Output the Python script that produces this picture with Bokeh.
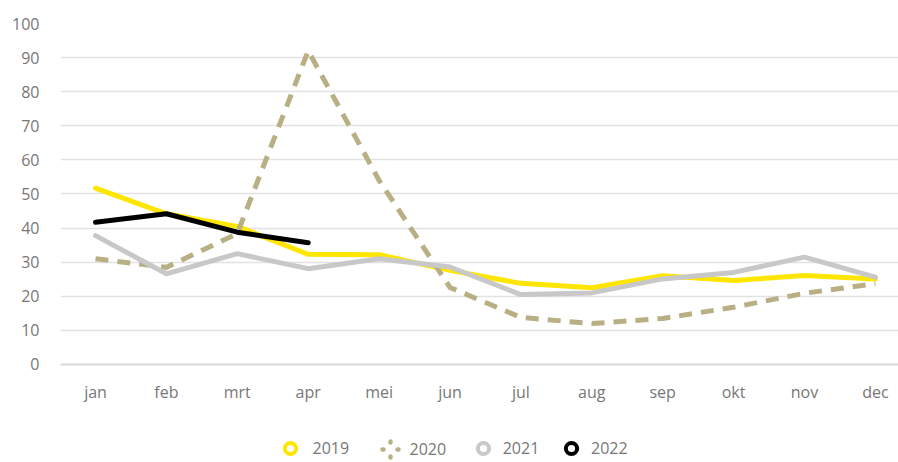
from bokeh.plotting import figure
from bokeh.models import ColumnDataSource, FixedTicker, Legend, LegendItem, Range1d
from bokeh.embed import file_html
from bokeh.resources import INLINE

months = ["jan", "feb", "mrt", "apr", "mei", "jun", "jul", "aug", "sep", "okt", "nov", "dec"]
y2019 = [51.7, 44.2, 40.5, 32.3, 32.2, 27.6, 23.8, 22.5, 26.0, 24.6, 26.1, 25.1]
y2020 = [31.0, 28.5, 38.4, 92.0, 54.0, 22.6, 13.8, 12.0, 13.5, 16.8, 20.9, 23.7]
y2021 = [37.8, 26.6, 32.5, 28.1, 31.0, 28.6, 20.5, 21.0, 25.1, 27.0, 31.5, 25.6]
y2022 = [41.7, 44.2, 38.8, 35.7]
y_ticks = [0, 10, 20, 30, 40, 50, 60, 70, 80, 90, 100]

FONT = "Open Sans"
TXT = "#777777"

idx = list(range(len(months)))
p = figure(width=898, height=462, output_backend="svg", toolbar_location=None,
           x_range=Range1d(-0.4937, 11.326), y_range=Range1d(-28.74, 100),
           min_border_left=60, min_border_right=0, min_border_top=23, min_border_bottom=0)
p.outline_line_color = None
p.background_fill_color = "white"
p.border_fill_color = "white"

p.xgrid.visible = False
p.ygrid.grid_line_color = "#e2e2e2"
p.ygrid.grid_line_width = 1.5
p.ygrid.ticker = FixedTicker(ticks=y_ticks)

xa = p.xaxis[0]
xa.fixed_location = 0
xa.ticker = FixedTicker(ticks=idx)
xa.major_label_overrides = {i: m for i, m in enumerate(months)}
xa.axis_line_color = "#d9d9d9"
xa.axis_line_width = 2
xa.major_tick_line_color = None
xa.minor_tick_line_color = None
xa.major_tick_out = 0
xa.major_tick_in = 0
xa.major_label_standoff = 17
xa.major_label_text_font = FONT
xa.major_label_text_font_size = "16px"
xa.major_label_text_color = TXT

ya = p.yaxis[0]
ya.ticker = FixedTicker(ticks=y_ticks)
ya.axis_line_color = None
ya.major_tick_line_color = None
ya.minor_tick_line_color = None
ya.major_tick_out = 0
ya.major_tick_in = 0
ya.major_label_standoff = 21
ya.major_label_text_font = FONT
ya.major_label_text_font_size = "16px"
ya.major_label_text_color = TXT

C19, C20, C21, C22 = "#ffe600", "#b8b084", "#c8c8c8", "#000000"

p.line(idx, y2019, line_color=C19, line_width=5, line_join="round", line_cap="round")
p.line(idx, y2020, line_color=C20, line_width=5, line_dash="13 9", line_join="miter")
p.line(idx, y2021, line_color=C21, line_width=5, line_join="round", line_cap="round")
p.line(idx[:len(y2022)], y2022, line_color=C22, line_width=5, line_join="round", line_cap="round")

# legend-only renderers: one undrawn (NaN) point each so the legend can draw their glyph
dummy = ColumnDataSource(data=dict(x=[0], y=[float("nan")]))
r19 = p.scatter("x", "y", source=dummy, marker="circle", fill_color="white", line_color=C19, line_width=4)
r20 = p.scatter("x", "y", source=dummy, marker="cross", line_color=C20, line_width=4.5,
                line_dash="1 14", line_cap="round")
r21 = p.scatter("x", "y", source=dummy, marker="circle", fill_color="white", line_color=C21, line_width=4)
r22 = p.scatter("x", "y", source=dummy, marker="circle", fill_color="white", line_color=C22, line_width=4)

def make_legend(label, r, loc, gsize, standoff):
    lg = Legend(items=[LegendItem(label=label, renderers=[r])], location=loc,
                glyph_width=gsize, glyph_height=gsize, label_standoff=standoff,
                padding=0, margin=0, border_line_color=None, background_fill_alpha=0,
                label_text_font=FONT, label_text_font_size="16px", label_text_color=TXT,
                label_height=gsize)
    p.add_layout(lg, "center")

make_legend("2019", r19, (215.5, 0), 28, 9)
make_legend("2020", r20, (309.5, -7), 40, 0)
make_legend("2021", r21, (408.7, 0), 28, 6)
make_legend("2022", r22, (497, 0), 28, 6)

open("out.html", "w").write(file_html(p, INLINE))
